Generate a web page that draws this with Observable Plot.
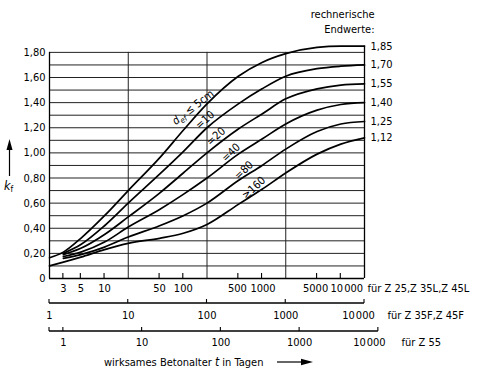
<!DOCTYPE html>
<html><head><meta charset="utf-8">
<script src="https://cdn.jsdelivr.net/npm/d3@7"></script>
<script src="https://cdn.jsdelivr.net/npm/@observablehq/plot@0.6"></script>
<style>html,body{margin:0;padding:0;background:#fff}</style>
</head><body><div id="chart"></div>
<script>
// ---- data ----
const tDays    = [2, 3, 5, 10, 20, 50, 100, 200, 500, 1000, 2000, 5000, 10000, 20000];
const curve5   = [0.165, 0.21, 0.32, 0.50, 0.70, 0.96, 1.18, 1.39, 1.61, 1.72, 1.79, 1.84, 1.85, 1.85];
const curve10  = [null, 0.20, 0.27, 0.42, 0.60, 0.83, 1.01, 1.20, 1.39, 1.51, 1.61, 1.67, 1.69, 1.70];
const curve20  = [null, 0.19, 0.24, 0.35, 0.49, 0.68, 0.84, 1.00, 1.19, 1.31, 1.43, 1.51, 1.54, 1.55];
const curve40  = [null, 0.175, 0.21, 0.29, 0.41, 0.55, 0.67, 0.80, 0.99, 1.11, 1.23, 1.34, 1.385, 1.40];
const curve80  = [null, 0.16, 0.19, 0.25, 0.33, 0.42, 0.50, 0.60, 0.78, 0.90, 1.03, 1.17, 1.23, 1.25];
const curve160 = [0.10, 0.13, 0.17, 0.23, 0.28, 0.32, 0.36, 0.43, 0.59, 0.71, 0.84, 0.99, 1.07, 1.12];
const endValues = [1.85, 1.70, 1.55, 1.40, 1.25, 1.12];
const yTicks = [0, 0.2, 0.4, 0.6, 0.8, 1.0, 1.2, 1.4, 1.6, 1.8];
const yGrid = [0.1, 0.2, 0.3, 0.4, 0.5, 0.6, 0.7, 0.8, 0.9, 1.0, 1.1, 1.2, 1.3, 1.4, 1.5, 1.6, 1.7, 1.8];
const xGrid = [20, 200, 2000];
const axis1Ticks = [3, 5, 10, 50, 100, 500, 1000, 5000, 10000];
const axis2Ticks = [1, 10, 100, 1000, 10000];
const axis3Ticks = [1, 10, 100, 1000, 10000];
const axisNames = ["für Z 25,Z 35L,Z 45L", "für Z 35F,Z 45F", "für Z 55"];
const seriesNames = ["≤5", "10", "20", "40", "80", "≥160"];
const seriesValues = [curve5, curve10, curve20, curve40, curve80, curve160];

// ---- annotations (label anchors in data coordinates) ----
const curveLabels = [
  {t: 134, k: 1.36, angle: -38, parts: [["d", "i"], ["ef", "sub"], [" ≤ 5cm", ""]]},
  {t: 190, k: 1.26, angle: -42, parts: [["=10", ""]]},
  {t: 262, k: 1.13, angle: -42, parts: [["=20", ""]]},
  {t: 405, k: 1.00, angle: -43, parts: [["=40", ""]]},
  {t: 592, k: 0.86, angle: -43, parts: [["=80", ""]]},
  {t: 793, k: 0.72, angle: -43, parts: [["≥160", ""]]}
];

const xDomain = [2, 20000];
const axis2Factor = 2, axis3Factor = 3;
const FS = 11;
const fmtK = d => d === 0 ? "0" : d.toFixed(2).replace(".", ",");
const fmtT = d => d >= 10000 ? "10\u200A000" : String(d);

const rows = seriesNames.flatMap((name, s) =>
  tDays.map((t, i) => ({t, k: seriesValues[s][i], name})));

// ticks and axis lines for the three time scales
const tickMark = (index, {x, y}) => {
  const g = d3.create("svg:g").attr("stroke", "black").attr("fill", "none");
  const y0 = y(0);
  for (const v of axis1Ticks)
    g.append("line").attr("x1", x(v)).attr("x2", x(v)).attr("y1", y0).attr("y2", y0 - 5).attr("stroke-width", 1.1);
  const ya2 = y0 + 25;
  g.append("line").attr("x1", x(axis2Factor * 1)).attr("x2", x(axis2Factor * 10000)).attr("y1", ya2).attr("y2", ya2).attr("stroke-width", 1.3);
  for (const v of axis2Ticks)
    g.append("line").attr("x1", x(axis2Factor * v)).attr("x2", x(axis2Factor * v)).attr("y1", ya2).attr("y2", ya2 - 4).attr("stroke-width", 1.1);
  const ya3 = y0 + 53;
  g.append("line").attr("x1", x(xDomain[0])).attr("x2", x(axis3Factor * 10000)).attr("y1", ya3).attr("y2", ya3).attr("stroke-width", 1.3);
  for (const v of [xDomain[0] / axis3Factor, ...axis3Ticks])
    g.append("line").attr("x1", x(axis3Factor * v)).attr("x2", x(axis3Factor * v)).attr("y1", ya3).attr("y2", ya3 - 4).attr("stroke-width", 1.1);
  return g.node();
};

const labelMark = (index, {x, y}) => {
  const g = d3.create("svg:g").attr("font-size", FS).attr("fill", "black");
  for (const L of curveLabels) {
    const t = g.append("text")
      .attr("transform", `translate(${x(L.t)},${y(L.k)}) rotate(${L.angle})`)
      .attr("text-anchor", "middle").attr("dy", "0.35em");
    let shifted = false;
    for (const [s, st] of L.parts) {
      const ts = t.append("tspan").text(s);
      if (st === "i") ts.attr("font-style", "italic");
      if (st === "sub") { ts.attr("font-style", "italic").attr("font-size", FS * 0.72).attr("dy", 3); shifted = true; }
      else if (shifted) { ts.attr("dy", -3); shifted = false; }
    }
  }
  return g.node();
};

const decoMark = (index, scales, values, dims) => {
  const g = d3.create("svg:g").attr("fill", "black").attr("font-size", FS).attr("text-anchor", "start");
  // k_f label with arrow
  const kf = g.append("text").attr("x", 4).attr("y", 190);
  kf.append("tspan").text("k").attr("font-style", "italic").attr("font-size", 12.5);
  kf.append("tspan").text("f").attr("font-size", 8.5).attr("dy", 2);
  g.append("line").attr("x1", 9.5).attr("x2", 9.5).attr("y1", 176).attr("y2", 148).attr("stroke", "black").attr("stroke-width", 1.2);
  g.append("path").attr("d", "M6.5,150L9.5,139L12.5,150Z");
  // bottom caption
  const cap = g.append("text").attr("x", 104).attr("y", 366);
  cap.append("tspan").text("wirksames Betonalter ");
  cap.append("tspan").text("t").attr("font-style", "italic").attr("font-size", 12);
  cap.append("tspan").text(" in Tagen");
  g.append("line").attr("x1", 277).attr("x2", 303).attr("y1", 362).attr("y2", 362).attr("stroke", "black").attr("stroke-width", 1.2);
  g.append("path").attr("d", "M301,358.8L313,362L301,365.2Z");
  return g.node();
};

const chart = Plot.plot({
  width: 483,
  height: 368,
  marginLeft: 49,
  marginRight: 119,
  marginTop: 45.6,
  marginBottom: 90,
  x: {type: "log", domain: xDomain, axis: null},
  y: {domain: [0, 1.85], axis: null},
  style: {fontFamily: "'DejaVu Sans Condensed', 'Liberation Sans Narrow', 'DejaVu Sans', sans-serif", background: "white", color: "black"},
  marks: [
    Plot.ruleY(yGrid, {x1: xDomain[0], x2: xDomain[1], y: d => d, stroke: "#222", strokeWidth: 1}),
    Plot.ruleX(xGrid, {x: d => d, y1: 0, y2: 1.8, stroke: "#222", strokeWidth: 1}),
    Plot.ruleX([xDomain[0]], {y1: 0, y2: 1.8, stroke: "black", strokeWidth: 1.3}),
    Plot.ruleX([xDomain[1]], {y1: 0, y2: 1.85, stroke: "black", strokeWidth: 1.3}),
    Plot.ruleY([0], {x1: xDomain[0], x2: xDomain[1], stroke: "black", strokeWidth: 1.3}),
    Plot.line(rows, {x: "t", y: "k", z: "name", curve: "monotone-x", stroke: "black", strokeWidth: 1.7}),
    tickMark,
    labelMark,
    decoMark,
    Plot.text(yTicks, {x: xDomain[0], y: d => d, dx: -4, textAnchor: "end", text: fmtK, fontSize: FS}),
    Plot.text(endValues, {x: xDomain[1], y: d => d, dx: 6, textAnchor: "start", text: fmtK, fontSize: FS}),
    Plot.text(["rechnerische\nEndwerte:"], {x: xDomain[1], y: 1.85, dx: 10, dy: -25, textAnchor: "end", lineHeight: 1.35, fontSize: FS}),
    Plot.text(axis1Ticks.filter(d => d !== 500 && d !== 1000 && d !== 5000 && d !== 10000), {x: d => d, y: 0, dy: 10, text: fmtT, fontSize: FS}),
    Plot.text([500], {x: d => d, y: 0, dy: 10, dx: -1, text: fmtT, fontSize: FS}),
    Plot.text([1000], {x: d => d, y: 0, dy: 10, dx: 1, text: fmtT, fontSize: FS}),
    Plot.text([5000], {x: d => d, y: 0, dy: 10, dx: -1.5, text: fmtT, fontSize: FS}),
    Plot.text([10000], {x: d => d, y: 0, dy: 10, dx: 6, text: fmtT, fontSize: FS, letterSpacing: "-0.6px"}),
    Plot.text(axis2Ticks.slice(0, -1), {x: d => axis2Factor * d, y: 0, dy: 37, text: fmtT, fontSize: FS}),
    Plot.text(axis2Ticks.slice(-1), {x: d => axis2Factor * d, y: 0, dy: 37, dx: -6, text: fmtT, fontSize: FS}),
    Plot.text(axis3Ticks.slice(0, -1), {x: d => axis3Factor * d, y: 0, dy: 64, text: fmtT, fontSize: FS}),
    Plot.text(axis3Ticks.slice(-1), {x: d => axis3Factor * d, y: 0, dy: 64, dx: -9, text: fmtT, fontSize: FS}),
    Plot.text([axisNames[0]], {x: xDomain[1], y: 0, dx: 3, dy: 10, textAnchor: "start", fontSize: FS}),
    Plot.text([axisNames[1]], {x: xDomain[1], y: 0, dx: 23, dy: 37, textAnchor: "start", fontSize: FS}),
    Plot.text([axisNames[2]], {x: xDomain[1], y: 0, dx: 37, dy: 64, textAnchor: "start", fontSize: FS})
  ]
});
document.getElementById("chart").appendChild(chart);
</script>
</body></html>
